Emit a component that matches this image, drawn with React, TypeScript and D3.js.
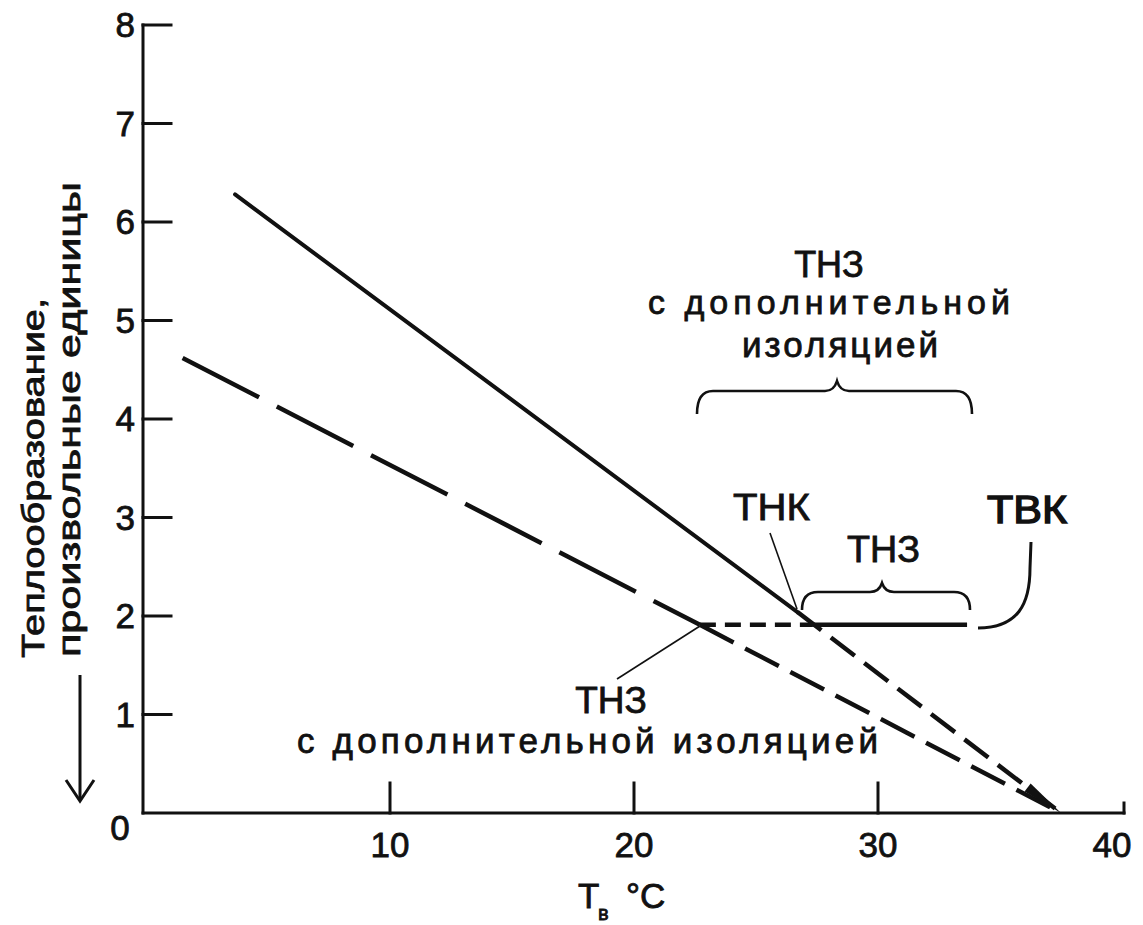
import React from 'react';
import * as d3 from 'd3';

// ---- data ----
const xTicks = [10, 20, 30, 40];
const yTicks = [1, 2, 3, 4, 5, 6, 7, 8];
const yZero = 0;

// ТНЗ (без изоляции) – сплошная линия до ТНК
const solidLine: [number, number][] = [[3.65, 6.28], [26.7, 2.04]];
// ТНЗ с дополнительной изоляцией – длинный пунктир
const insulatedUpper: [number, number][] = [[1.5, 4.62], [22.7, 1.91]];
const insulatedLower: [number, number][] = [[22.7, 1.91], [37.5, 0]];
// продолжение от ТНК – средний пунктир
const afterTNK: [number, number][] = [[26.7, 2.04], [37.5, 0]];
// плато теплообразования
const plateauDashed: [number, number][] = [[22.7, 1.91], [27.3, 1.91]];
const plateauSolid: [number, number][] = [[27.3, 1.91], [33.65, 1.91]];

const W = 1143;
const H = 925;

const x = d3.scaleLinear().domain([0, 40]).range([146, 1122]);
const y = d3.scaleLinear().domain([0, 8]).range([813, 25]);
const line = d3.line<[number, number]>().x(d => x(d[0])).y(d => y(d[1]));

const FONT = "'Liberation Sans', Arial, Helvetica, sans-serif";

function brace(x0: number, x1: number, yt: number, yb: number, ytip: number, xm?: number) {
  const m = xm ?? (x0 + x1) / 2;
  return `M${x0},${yb} Q${x0},${yt} ${x0 + 16},${yt} L${m - 12},${yt} Q${m - 3},${yt} ${m},${ytip} Q${m + 3},${yt} ${m + 12},${yt} L${x1 - 16},${yt} Q${x1},${yt} ${x1},${yb}`;
}

function arrowHead(pts: [number, number][]) {
  const [a, b] = [pts[pts.length - 2], pts[pts.length - 1]];
  const ax = x(a[0]), ay = y(a[1]), bx = x(b[0]), by = y(b[1]);
  const len = Math.hypot(bx - ax, by - ay);
  const ux = (bx - ax) / len, uy = (by - ay) / len;
  const L = 42, hw = 5;
  const baseX = bx - ux * L, baseY = by - uy * L;
  const px = -uy, py = ux;
  return `M${bx},${by} L${baseX + px * hw},${baseY + py * hw} L${baseX - px * hw},${baseY - py * hw} Z`;
}

export default function App() {
  const x0 = 143;
  const y0 = 813;
  const txt = { fontFamily: FONT, fill: '#111', stroke: '#111', strokeWidth: 0.8 } as const;
  return (
    <svg width={W} height={H} style={{ position: 'absolute', left: 0, top: 0, display: 'block', background: '#fff' }}>
      {/* axes */}
      <g stroke="#111" strokeWidth={3} fill="none" strokeLinecap="square">
        <line x1={x0} y1={y0} x2={x0} y2={y(8)} />
        <line x1={x0} y1={y0} x2={1124} y2={y0} />
        <line x1={1124} y1={y0} x2={1124} y2={y0 - 10} />
        {yTicks.map(t => (
          <line key={'yt' + t} x1={x0} x2={x0 + 28} y1={y(t)} y2={y(t)} />
        ))}
        {xTicks.slice(0, 3).map(t => (
          <line key={'xt' + t} x1={x(t)} x2={x(t)} y1={y0} y2={y0 - 30} />
        ))}
      </g>
      {/* tick labels */}
      <g {...txt} fontSize={35}>
        {yTicks.map(t => (
          <text key={'yl' + t} x={135} y={y(t) + 12} textAnchor="end">{t}</text>
        ))}
        <text x={120} y={840} textAnchor="middle">{yZero}</text>
        {xTicks.map((t, i) => (
          <text key={'xl' + t} x={x(t) + (i === xTicks.length - 1 ? -10 : 0)} y={857} textAnchor="middle">{t}</text>
        ))}
      </g>
      {/* x axis title */}
      <g {...txt}>
        <text x={578} y={908} fontSize={35}>Т</text>
        <text x={598} y={920} fontSize={20}>в</text>
        <text x={626} y={908} fontSize={35}>°C</text>
      </g>
      {/* y axis title */}
      <g {...txt} fontSize={32}>
        <text transform="translate(44,658) rotate(-90)" textLength={360} lengthAdjust="spacingAndGlyphs">Теплообразование,</text>
        <text transform="translate(80,657) rotate(-90)" textLength={475} lengthAdjust="spacingAndGlyphs">произвольные единицы</text>
      </g>
      <g stroke="#111" strokeWidth={3} fill="none">
        <line x1={80} y1={675} x2={80} y2={800} />
        <path d="M66,780 L80,801 L94,780" />
      </g>

      {/* curves */}
      <g fill="none" stroke="#111" strokeWidth={4}>
        <path d={line(solidLine)!} strokeLinecap="round" />
        <path d={line(insulatedUpper)!} strokeDasharray="86 20" strokeWidth={4.5} />
        <path d={line(insulatedLower)!} strokeDasharray="38 13" strokeWidth={4.5} />
        <path d={line(afterTNK)!} strokeDasharray="30 12" strokeWidth={4.5} />
        <path d={line(plateauDashed)!} strokeDasharray="16 9" strokeWidth={4.5} />
        <path d={line(plateauSolid)!} strokeWidth={4.5} />
      </g>
      <path d={arrowHead(afterTNK)} fill="#111" />

      {/* annotations */}
      <g fill="none" stroke="#111" strokeWidth={2.6}>
        <path d={brace(697, 972, 391, 414, 381, 837)} />
        <path d={brace(802, 970, 592, 610, 583, 882)} />
        <path d="M978,628 C1018,628 1030,604 1030,568 L1031,542" strokeWidth={3} />
      </g>
      <g stroke="#111" strokeWidth={1.6}>
        <line x1={770} y1={533} x2={797} y2={609} />
        <line x1={700} y1={626} x2={617} y2={679} />
      </g>
      <g {...txt} fontSize={37}>
        <text x={829} y={277} textAnchor="middle" fontSize={36}>ТНЗ</text>
        <text x={648} y={314} textLength={362} lengthAdjust="spacing" fontSize={34}>с дополнительной</text>
        <text x={742} y={357} textLength={196} lengthAdjust="spacing" fontSize={35}>изоляцией</text>
        <text x={733} y={520} textLength={77} lengthAdjust="spacingAndGlyphs">ТНК</text>
        <text x={847} y={562} textLength={73} lengthAdjust="spacingAndGlyphs">ТНЗ</text>
        <text x={987} y={523} textLength={80} lengthAdjust="spacingAndGlyphs" strokeWidth={1.4} fontSize={38}>ТВК</text>
        <text x={611} y={713} textAnchor="middle">ТНЗ</text>
        <text x={297} y={753} textLength={581} lengthAdjust="spacing" fontSize={35}>с дополнительной изоляцией</text>
      </g>
    </svg>
  );
}
